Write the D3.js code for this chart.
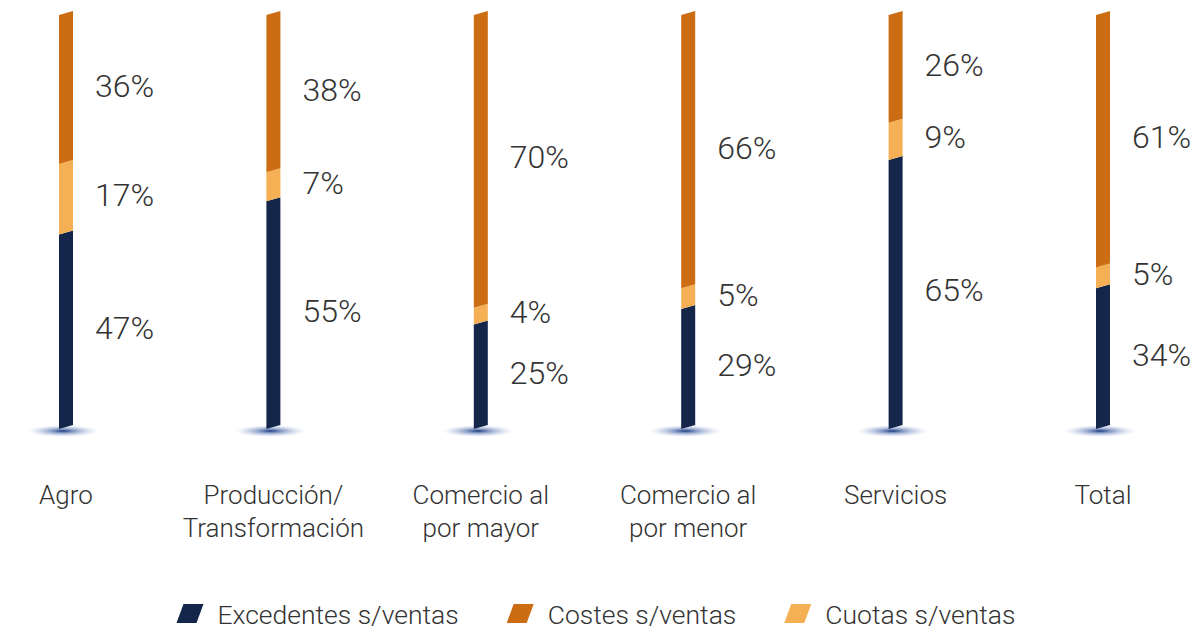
<!DOCTYPE html>
<html>
<head>
<meta charset="utf-8">
<script src="https://cdn.jsdelivr.net/npm/d3@7"></script>
<style>
  html, body { margin: 0; padding: 0; background: #fff; }
  svg { display: block; font-family: Roboto, "Open Sans", sans-serif; font-weight: 300; }
</style>
</head>
<body>
<script>
// data
const categories = ["Agro", "Producción/\nTransformación", "Comercio al\npor mayor", "Comercio al\npor menor", "Servicios", "Total"];
const excedentes = [47, 55, 25, 29, 65, 34];
const cuotas = [17, 7, 4, 5, 9, 5];
const costes = [36, 38, 70, 66, 26, 61];
const seriesNames = ["Excedentes s/ventas", "Costes s/ventas", "Cuotas s/ventas"];
const colors = { exc: "#14274a", cost: "#cc6d13", cuo: "#f5b056" };

const W = 1202, H = 630;
const barW = 14, skew = 4;

const svg = d3.select("body").append("svg")
    .attr("width", W).attr("height", H);

const x = d3.scalePoint().domain(categories).range([66, 1103]);
const y = d3.scaleLinear().domain([0, 1]).range([429, 15]);

// shadow gradient
const defs = svg.append("defs");
const grad = defs.append("radialGradient").attr("id", "shadow");
grad.append("stop").attr("offset", "0%").attr("stop-color", "#1c3a7c").attr("stop-opacity", 1);
grad.append("stop").attr("offset", "30%").attr("stop-color", "#34569e").attr("stop-opacity", 0.6);
grad.append("stop").attr("offset", "100%").attr("stop-color", "#a8badf").attr("stop-opacity", 0);

// stack bottom -> top, each bar filled to full height
const rows = categories.map((c, i) => ({ cat: c, exc: excedentes[i], cuo: cuotas[i], cost: costes[i] }));
const stack = d3.stack().keys(["exc", "cuo", "cost"]).offset(d3.stackOffsetExpand)(rows);

const g = svg.append("g");

g.selectAll("ellipse.shadow")
  .data(categories)
  .join("ellipse")
    .attr("cx", d => x(d) - 3)
    .attr("cy", y(0) + 2)
    .attr("rx", 36)
    .attr("ry", 6)
    .attr("fill", "url(#shadow)");

function segPath(x0, yb, yt) {
  // left edge sits lower than the right edge (slanted caps)
  const p = d3.path();
  p.moveTo(x0, yb);
  p.lineTo(x0 + barW, yb - skew);
  p.lineTo(x0 + barW, yt - skew);
  p.lineTo(x0, yt);
  p.closePath();
  return p.toString();
}

stack.forEach(layer => {
  g.append("g").attr("fill", colors[layer.key])
    .selectAll("path")
    .data(layer)
    .join("path")
      .attr("d", d => segPath(x(d.data.cat) - barW / 2, y(d[0]), y(d[1])));
});

// value labels
stack.forEach(layer => {
  g.append("g")
    .selectAll("text")
    .data(layer)
    .join("text")
      .attr("x", d => x(d.data.cat) + 29)
      .attr("y", d => (y(d[0]) + y(d[1])) / 2 - 4)
      .attr("dominant-baseline", "central")
      .attr("font-size", 32)
      .attr("fill", "#333")
      .text(d => d.data[layer.key] + "%");
});

// category labels
const cl = g.append("g")
  .selectAll("text")
  .data(categories)
  .join("text")
    .attr("x", d => x(d))
    .attr("y", 504)
    .attr("text-anchor", "middle")
    .attr("font-size", 26)
    .attr("fill", "#333");
cl.selectAll("tspan")
  .data(d => d.split("\n").map(t => [t, d]))
  .join("tspan")
    .attr("x", d => x(d[1]))
    .attr("dy", (d, i) => i ? 33 : 0)
    .text(d => d[0]);

// legend
const legendKeys = ["exc", "cost", "cuo"];
const leg = svg.append("g");
const items = leg.selectAll("g")
  .data(seriesNames)
  .join("g");
items.append("path")
  .attr("d", "M0,19 L7,0 L27,0 L20,19 Z")
  .attr("fill", (d, i) => colors[legendKeys[i]]);
items.append("text")
  .attr("x", 41)
  .attr("y", 10)
  .attr("dominant-baseline", "central")
  .attr("font-size", 26.5)
  .attr("fill", "#333")
  .text(d => d);

let off = 0;
const gap = 48;
items.each(function () {
  const w = this.getBBox().width;
  d3.select(this).attr("data-off", off);
  off += w + gap;
});
const total = off - gap;
const start = W / 2 - total / 2 - 5;
items.attr("transform", function () {
  return `translate(${start + +this.getAttribute("data-off")},604)`;
});
</script>
</body>
</html>
